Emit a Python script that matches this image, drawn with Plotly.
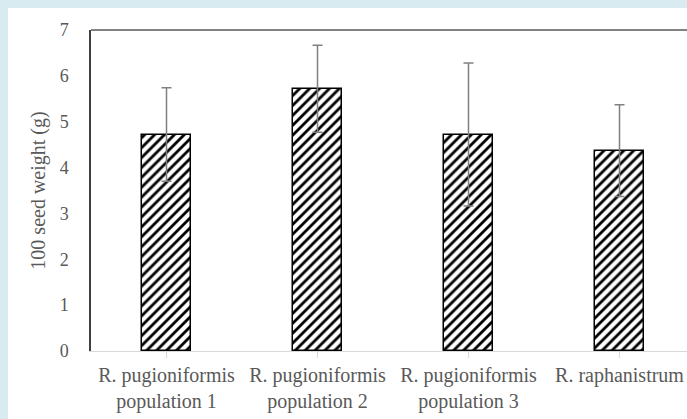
import plotly.graph_objects as go

categories = ["R. pugioniformis<br>population 1", "R. pugioniformis<br>population 2",
              "R. pugioniformis<br>population 3", "R. raphanistrum"]
seed_weight = [4.72, 5.72, 4.72, 4.37]
seed_weight_err = [1.02, 0.95, 1.56, 1.0]
y_ticks = [0, 1, 2, 3, 4, 5, 6, 7]

FONT = "Liberation Serif, Times New Roman, serif"
TXT = "#595959"
BLUE = "#d8ebf1"

fig = go.Figure()
fig.add_trace(go.Bar(
    x=list(range(len(categories))), y=seed_weight, width=0.318,
    marker=dict(color="white", line=dict(color="black", width=1.5),
                pattern=dict(shape="/", fgcolor="black", bgcolor="white", size=7, solidity=0.4)),
    error_y=dict(type="data", array=seed_weight_err, color="#808080", thickness=1.5, width=5),
    showlegend=False, hoverinfo="skip",
))

# white panel inset on the light blue page
fig.add_shape(type="rect", xref="paper", yref="paper", x0=-0.1393, x1=1.3, y0=-0.5, y1=1.0685,
              fillcolor="white", line=dict(width=0), layer="below")
# top border
fig.add_shape(type="line", xref="paper", yref="paper", x0=0, x1=1.02, y0=1, y1=1,
              line=dict(color="#595959", width=1.5))

fig.update_layout(
    width=687, height=419,
    template="none",
    paper_bgcolor=BLUE, plot_bgcolor="white",
    margin=dict(l=91, r=0, t=30, b=68),
    font=dict(family=FONT, color=TXT, size=18),
    bargap=0,
)
fig.update_xaxes(
    range=[-0.5, 3.447], tickmode="array", tickvals=list(range(len(categories))), ticktext=categories,
    tickson="boundaries", ticks="outside", ticklen=6, tickcolor="#d9d9d9", tickwidth=1,
    showline=True, linecolor="#d9d9d9", linewidth=1, showgrid=False, zeroline=False,
    tickfont=dict(family=FONT, color=TXT, size=20), automargin=False,
)
fig.update_yaxes(
    range=[0, 7], tickmode="array", tickvals=y_ticks, ticks="", showgrid=False, zeroline=False,
    showline=True, linecolor="#404040", linewidth=1.5, ticklabelstandoff=17,
    tickfont=dict(family=FONT, color=TXT, size=18),
    title=dict(text="100 seed weight (g)", font=dict(family=FONT, color=TXT, size=20), standoff=9),
    automargin=False,
)
fig.write_html(
    "out.html",
    config={"displayModeBar": False},
    post_script="document.body.style.margin='0';document.body.style.background='" + BLUE + "';",
)
